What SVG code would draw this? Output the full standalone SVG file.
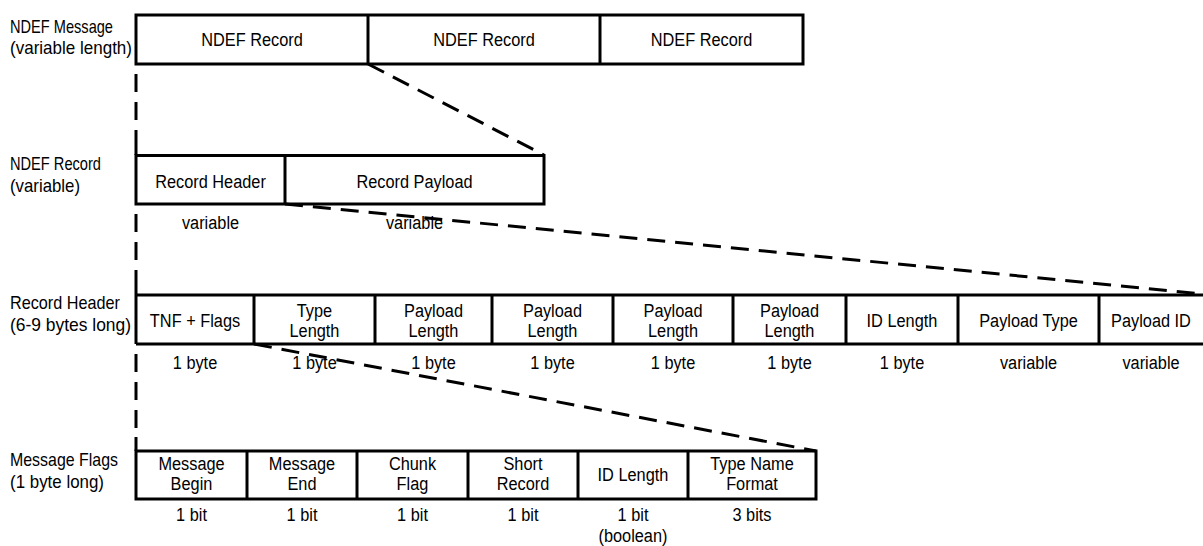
<svg xmlns="http://www.w3.org/2000/svg" width="1203" height="546" viewBox="0 0 1203 546">
<style>
text { font-family: "Liberation Sans", Arial, sans-serif; font-size: 19px; fill: #000; }
.c { text-anchor: middle; transform-box: fill-box; transform-origin: center; transform: scaleX(0.86); }
.box { fill: none; stroke: #000; stroke-width: 3; }
.ln { fill: none; stroke: #000; stroke-width: 3; }
.dash { fill: none; stroke: #000; stroke-width: 3; stroke-dasharray: 18 10; }
.vdash { fill: none; stroke: #000; stroke-width: 3; stroke-dasharray: 18 10; stroke-dashoffset: 18; }
</style>
<rect width="1203" height="546" fill="#fff"/>

<g id="labels">
  <text x="10" y="33" textLength="103" lengthAdjust="spacingAndGlyphs">NDEF Message</text>
  <text x="10" y="54" textLength="122" lengthAdjust="spacingAndGlyphs">(variable length)</text>
  <text x="10" y="170" textLength="91" lengthAdjust="spacingAndGlyphs">NDEF Record</text>
  <text x="10" y="192" textLength="70" lengthAdjust="spacingAndGlyphs">(variable)</text>
  <text x="10" y="309" textLength="110" lengthAdjust="spacingAndGlyphs">Record Header</text>
  <text x="10" y="331" textLength="121" lengthAdjust="spacingAndGlyphs">(6-9 bytes long)</text>
  <text x="10" y="466" textLength="108" lengthAdjust="spacingAndGlyphs">Message Flags</text>
  <text x="10" y="488" textLength="94" lengthAdjust="spacingAndGlyphs">(1 byte long)</text>
</g>

<g id="connectors">
  <path class="vdash" d="M136 64 V141"/>
  <path class="vdash" d="M136 204 V282"/>
  <path class="vdash" d="M136 344 V437"/>
  <path class="dash" d="M368 64 L544 155"/>
  <path class="dash" d="M285 204 L1203 294"/>
  <path class="dash" d="M254 344 L816 451"/>
</g>

<g id="ndef-message">
  <rect class="box" x="136" y="15" width="667" height="49"/>
  <line class="ln" x1="368" y1="15" x2="368" y2="64"/>
  <line class="ln" x1="600" y1="15" x2="600" y2="64"/>
  <g id="msg-record-1"><text class="c" x="252" y="46">NDEF Record</text></g>
  <g id="msg-record-2"><text class="c" x="484" y="46">NDEF Record</text></g>
  <g id="msg-record-3"><text class="c" x="701.5" y="46">NDEF Record</text></g>
</g>

<g id="ndef-record">
  <line class="ln" x1="136" y1="141" x2="136" y2="155"/>
  <rect class="box" x="136" y="155.5" width="408" height="48.5"/>
  <line class="ln" x1="285" y1="155.5" x2="285" y2="204"/>
  <g id="record-header"><text class="c" x="210.5" y="188">Record Header</text><text class="c" x="210.5" y="229">variable</text></g>
  <g id="record-payload"><text class="c" x="414.5" y="188">Record Payload</text><text class="c" x="414.5" y="229">variable</text></g>
</g>

<g id="record-header-fields">
  <path class="ln" d="M136 282 V344 M136 295 H1203 M136 344 H1203"/>
  <path class="ln" d="M254 295 V344 M375 295 V344 M492 295 V344 M613 295 V344 M733 295 V344 M846 295 V344 M958 295 V344 M1099 295 V344"/>
  <g id="tnf-flags"><text class="c" x="195" y="327">TNF + Flags</text><text class="c" x="195" y="369">1 byte</text></g>
  <g id="type-length"><text class="c" x="314.5" y="317">Type</text><text class="c" x="314.5" y="337">Length</text><text class="c" x="314.5" y="369">1 byte</text></g>
  <g id="payload-length-1"><text class="c" x="433.5" y="317">Payload</text><text class="c" x="433.5" y="337">Length</text><text class="c" x="433.5" y="369">1 byte</text></g>
  <g id="payload-length-2"><text class="c" x="552.5" y="317">Payload</text><text class="c" x="552.5" y="337">Length</text><text class="c" x="552.5" y="369">1 byte</text></g>
  <g id="payload-length-3"><text class="c" x="673" y="317">Payload</text><text class="c" x="673" y="337">Length</text><text class="c" x="673" y="369">1 byte</text></g>
  <g id="payload-length-4"><text class="c" x="789.5" y="317">Payload</text><text class="c" x="789.5" y="337">Length</text><text class="c" x="789.5" y="369">1 byte</text></g>
  <g id="id-length"><text class="c" x="902" y="327">ID Length</text><text class="c" x="902" y="369">1 byte</text></g>
  <g id="payload-type"><text class="c" x="1028.5" y="327">Payload Type</text><text class="c" x="1028.5" y="369">variable</text></g>
  <g id="payload-id"><text class="c" x="1151" y="327">Payload ID</text><text class="c" x="1151" y="369">variable</text></g>
</g>

<g id="message-flags">
  <line class="ln" x1="136" y1="437" x2="136" y2="451"/>
  <rect class="box" x="136" y="451" width="680" height="48"/>
  <path class="ln" d="M247 451 V499 M357 451 V499 M468 451 V499 M578 451 V499 M688 451 V499"/>
  <g id="message-begin"><text class="c" x="191.5" y="470">Message</text><text class="c" x="191.5" y="490">Begin</text><text class="c" x="191.5" y="521">1 bit</text></g>
  <g id="message-end"><text class="c" x="302" y="470">Message</text><text class="c" x="302" y="490">End</text><text class="c" x="302" y="521">1 bit</text></g>
  <g id="chunk-flag"><text class="c" x="412.5" y="470">Chunk</text><text class="c" x="412.5" y="490">Flag</text><text class="c" x="412.5" y="521">1 bit</text></g>
  <g id="short-record"><text class="c" x="523" y="470">Short</text><text class="c" x="523" y="490">Record</text><text class="c" x="523" y="521">1 bit</text></g>
  <g id="flag-id-length"><text class="c" x="633" y="481">ID Length</text><text class="c" x="633" y="521">1 bit</text><text class="c" x="633" y="542">(boolean)</text></g>
  <g id="type-name-format"><text class="c" x="752" y="470">Type Name</text><text class="c" x="752" y="490">Format</text><text class="c" x="752" y="521">3 bits</text></g>
</g>
</svg>
